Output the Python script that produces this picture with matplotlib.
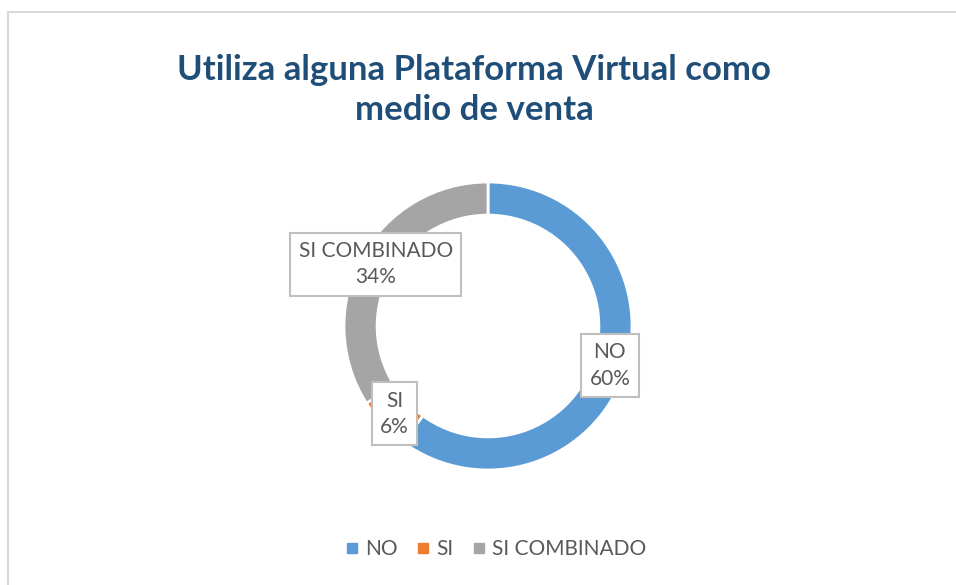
import numpy as np
import matplotlib.pyplot as plt
from matplotlib.lines import Line2D
from matplotlib.patches import Rectangle

plt.rcParams['font.family'] = ['Lato', 'DejaVu Sans']

# data
categories = ["NO", "SI", "SI COMBINADO"]
shares = [60, 6, 34]
colors = ["#5B9BD5", "#ED7D31", "#A5A5A5"]
title = "Utiliza alguna Plataforma Virtual como\nmedio de venta"

W, H = 956, 585
fig = plt.figure(figsize=(W / 100, H / 100), dpi=100)

# chart frame (only left and top edges are visible in the crop)
fig.patches.append(Rectangle((7.5 / W, -0.1), 1.2, (H - 11.5) / H + 0.1,
                             transform=fig.transFigure, fill=False,
                             edgecolor="#D9D9D9", lw=1.5))

# donut axes: centre (488, 326) px, outer radius 144 px
cx, cy, r_px, half = 488, 326, 144, 150
ax = fig.add_axes([(cx - half) / W, (H - cy - half) / H, 2 * half / W, 2 * half / H])

width = 0.23
wedges, _ = ax.pie(shares, colors=colors, startangle=90, counterclock=False,
                   radius=1, wedgeprops=dict(width=width, edgecolor="white", linewidth=2))
lim = half / r_px
ax.set_xlim(-lim, lim)
ax.set_ylim(-lim, lim)
ax.set_aspect("equal")
ax.axis("off")

# data labels at mid-angle of each slice
total = sum(shares)
start = 0
for cat, val in zip(categories, shares):
    mid = start + val / total * 360 / 2
    start += val / total * 360
    rr = 1 - width / 2 + 0.005
    x = rr * np.sin(np.radians(mid))
    y = rr * np.cos(np.radians(mid))
    ax.text(x, y, f"{cat}\n{val}%", ha="center", va="center", fontsize=15,
            color="#595959", linespacing=1.4, zorder=5,
            bbox=dict(boxstyle="square,pad=0.4", facecolor="white",
                      edgecolor="#BFBFBF", linewidth=1.5))

fig.text(474 / W, 1 - 90 / H, title, ha="center", va="center", fontsize=25,
         fontweight="bold", color="#1F4E79", linespacing=1.3)

handles = [Line2D([], [], marker="s", linestyle="none", markersize=7,
                  markerfacecolor=c, markeredgecolor=c) for c in colors]
fig.legend(handles, categories, loc="center", bbox_to_anchor=(494 / W, 1 - 549 / H),
           ncol=3, frameon=False, fontsize=15, labelcolor="#595959",
           handletextpad=0.15, columnspacing=0.7, handlelength=1.0)

fig.savefig("out.png", dpi=100, facecolor="white")
